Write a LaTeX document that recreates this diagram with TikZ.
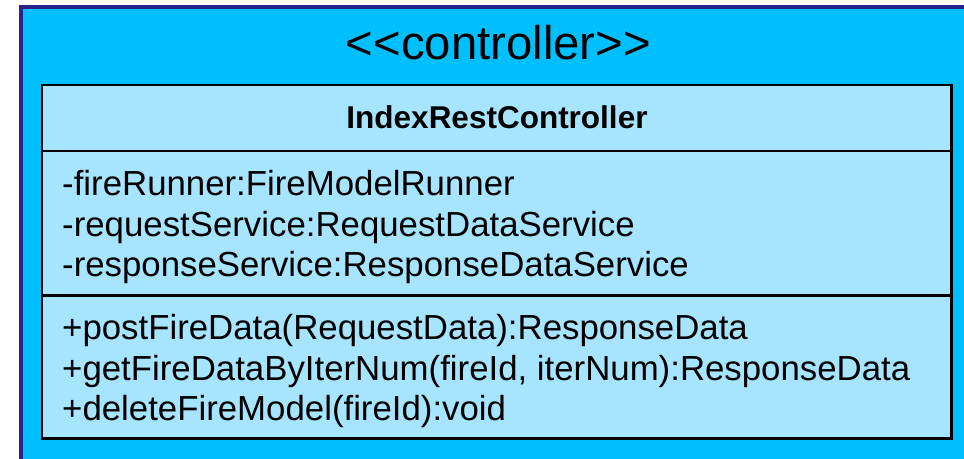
\documentclass[tikz,border=0pt]{standalone}
\usepackage{fontspec}
\setmainfont{Liberation Sans}[Ligatures=TeXOff]
\definecolor{pkgfill}{RGB}{0,191,255}
\definecolor{pkgedge}{RGB}{40,36,140}
\definecolor{classfill}{RGB}{166,228,255}
\tikzset{
  member/.style={anchor=base west, inner sep=0pt, font=\fontsize{34.8}{40}\selectfont},
}
\begin{document}
\begin{tikzpicture}[x=1pt,y=-1pt]
\useasboundingbox (0,0) rectangle (964,458);
\clip (0,0) rectangle (964,458);
% package frame
\draw[pkgedge, fill=pkgfill, line width=4pt] (21,7) rectangle (980,480);
\node[inner sep=0pt, font=\fontsize{47.3}{54}\selectfont] (stereo) at (498.5,43) {<<controller>>};
% class box
\draw[black, fill=classfill, line width=2.5pt] (42,85) rectangle (951.5,438.5);
\draw[black, line width=2.5pt] (42,151) -- (951.5,151);
\draw[black, line width=2.5pt] (42,295.5) -- (951.5,295.5);
\node[inner sep=0pt, font=\bfseries\fontsize{31.5}{36}\selectfont] (cname) at (497,117) {IndexRestController};
\node[member] (a1) at (62,195) {-fireRunner:FireModelRunner};
\node[member] (a2) at (62,236) {-requestService:RequestDataService};
\node[member] (a3) at (62,276) {-responseService:ResponseDataService};
\node[member] (m1) at (62,339) {+postFireData(RequestData):ResponseData};
\node[member] (m2) at (62,380) {+getFireDataByIterNum(fireId, iterNum):ResponseData};
\node[member] (m3) at (62,420) {+deleteFireModel(fireId):void};
\end{tikzpicture}
\end{document}
